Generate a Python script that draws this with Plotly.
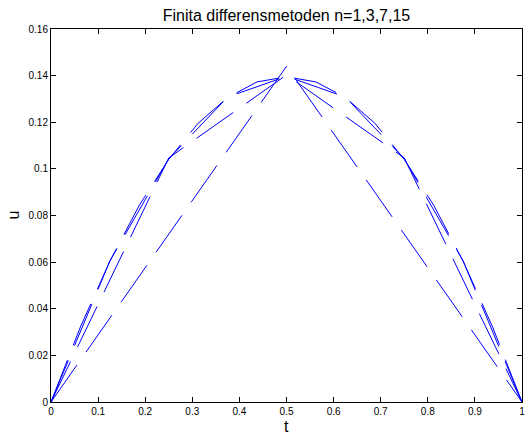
import plotly.graph_objects as go

# Data (finite difference solutions, n = 1, 3, 7, 15)
t_n1 = [0, 0.5, 1]
u_n1 = [0, 0.144, 0]

t_n3 = [0, 0.25, 0.5, 0.75, 1]
u_n3 = [0, 0.1047, 0.1403, 0.1047, 0]

t_n7 = [0, 0.125, 0.25, 0.375, 0.5, 0.625, 0.75, 0.875, 1]
u_n7 = [0, 0.0605, 0.1043, 0.1308, 0.1397, 0.1308, 0.1043, 0.0605, 0]

t_n15 = [0, 0.0625, 0.125, 0.1875, 0.25, 0.3125, 0.375, 0.4375, 0.5,
         0.5625, 0.625, 0.6875, 0.75, 0.8125, 0.875, 0.9375, 1]
u_n15 = [0, 0.0322, 0.0604, 0.0844, 0.1041, 0.1196, 0.1306, 0.1373, 0.1395,
         0.1373, 0.1306, 0.1196, 0.1041, 0.0844, 0.0604, 0.0322, 0]

x_ticks = [0, 0.1, 0.2, 0.3, 0.4, 0.5, 0.6, 0.7, 0.8, 0.9, 1]
x_ticktext = ["0", "0.1", "0.2", "0.3", "0.4", "0.5", "0.6", "0.7", "0.8", "0.9", "1"]
y_ticks = [0, 0.02, 0.04, 0.06, 0.08, 0.1, 0.12, 0.14, 0.16]
y_ticktext = ["0", "0.02", "0.04", "0.06", "0.08", "0.1", "0.12", "0.14", "0.16"]

title_text = "Finita differensmetoden n=1,3,7,15"

FONT = "Liberation Sans, Arial, Helvetica, sans-serif"
line_style = dict(color="#0000ff", width=1, dash="45px,16px")

fig = go.Figure()
for tx, ux, nm in [(t_n1, u_n1, "n=1"), (t_n3, u_n3, "n=3"),
                   (t_n7, u_n7, "n=7"), (t_n15, u_n15, "n=15")]:
    fig.add_trace(go.Scatter(x=tx, y=ux, mode="lines", name=nm,
                             line=line_style, showlegend=False, hoverinfo="skip"))

axis_common = dict(showline=True, linecolor="black", linewidth=1, mirror="ticks",
                   ticks="inside", ticklen=5, tickcolor="black", tickwidth=1,
                   showgrid=False, zeroline=False, automargin=False,
                   ticklabeloverflow="allow",
                   tickfont=dict(family=FONT, size=10, color="black"))

fig.update_layout(
    width=525, height=434,
    margin=dict(l=51, r=3, t=29, b=32),
    paper_bgcolor="white", plot_bgcolor="white",
    font=dict(family=FONT, color="black"),
    title=dict(text=title_text, x=0.5, xref="paper", y=1 - 15 / 434,
               yref="container", xanchor="center", yanchor="middle",
               font=dict(family=FONT, size=16, color="black")),
    xaxis=dict(range=[0, 1], tickvals=x_ticks, ticktext=x_ticktext, **axis_common),
    yaxis=dict(range=[0, 0.16], tickvals=y_ticks, ticktext=y_ticktext, **axis_common),
    annotations=[
        dict(text="t", x=0.5, xref="paper", y=-24 / 373, yref="paper",
             xanchor="center", yanchor="middle", showarrow=False,
             font=dict(family=FONT, size=16, color="black")),
        dict(text="u", x=-38 / 471, xref="paper", y=0.5, yref="paper",
             xanchor="center", yanchor="middle", showarrow=False, textangle=-90,
             font=dict(family=FONT, size=16, color="black")),
    ],
)

fig.write_html(
    "out.html",
    config={"displayModeBar": False},
    post_script="document.body.style.margin='0';document.body.style.overflow='hidden';",
)
